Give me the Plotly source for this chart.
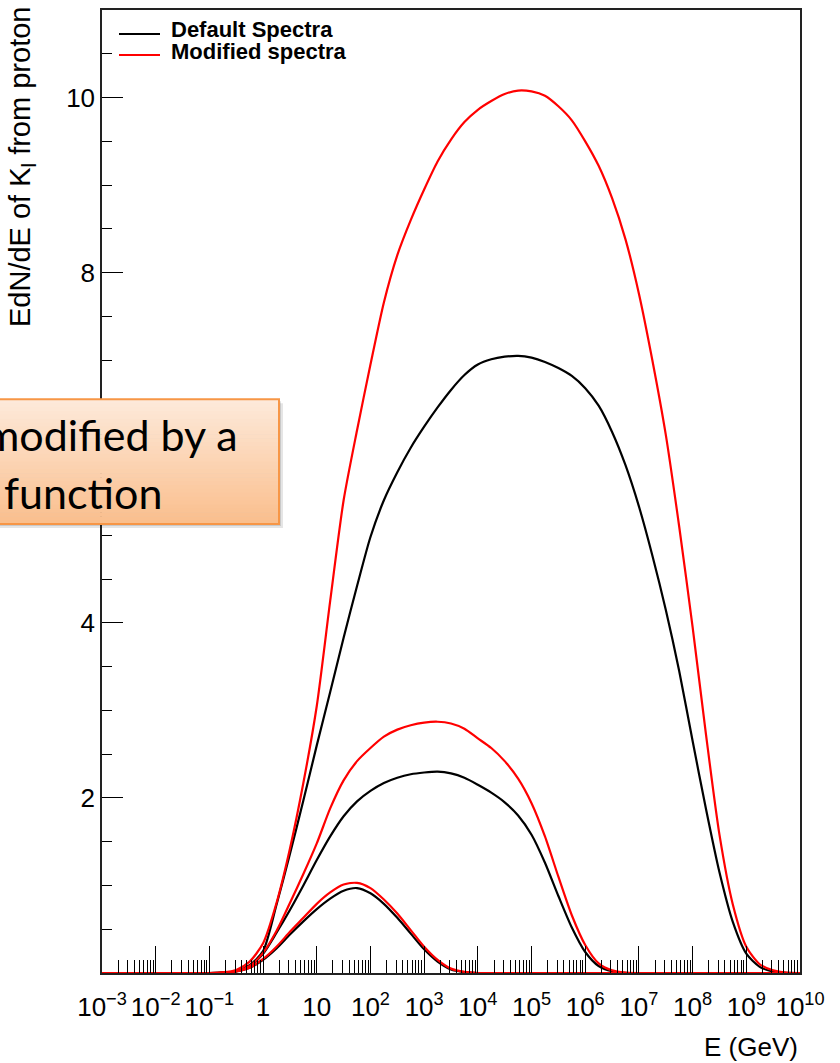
import plotly.graph_objects as go

# ---------------- data ----------------
# log10(E / GeV) sampling grid
log_e = [-3.0, -2.0, -1.0, -0.75, -0.5, -0.25, 0.0, 0.25, 0.5, 0.75,
         1.0, 1.25, 1.5, 1.75, 2.0, 2.25, 2.5, 2.75, 3.0, 3.25,
         3.5, 3.75, 4.0, 4.25, 4.5, 4.75, 5.0, 5.25, 5.5, 5.75,
         6.0, 6.25, 6.5, 6.75, 7.0, 7.25, 7.5, 7.75, 8.0, 8.25,
         8.5, 8.75, 9.0, 9.25, 9.5, 9.75, 10.0]

# large pair
big_default = [0, 0, 0, 0.004, 0.02, 0.09, 0.25, 0.78, 1.36, 1.97,
               2.60, 3.21, 3.83, 4.42, 4.98, 5.40, 5.72, 6.00, 6.24, 6.46,
               6.66, 6.83, 6.95, 7.01, 7.04, 7.05, 7.03, 6.98, 6.91, 6.82,
               6.68, 6.48, 6.18, 5.80, 5.33, 4.77, 4.15, 3.45, 2.65, 1.87,
               1.15, 0.58, 0.22, 0.07, 0.015, 0.002, 0]
big_modified = [0, 0, 0, 0.008, 0.035, 0.13, 0.34, 0.80, 1.42, 2.17,
                3.05, 4.25, 5.40, 6.20, 6.95, 7.66, 8.20, 8.60, 8.95, 9.27,
                9.52, 9.72, 9.86, 9.96, 10.04, 10.08, 10.07, 10.02, 9.90, 9.74,
                9.50, 9.22, 8.85, 8.38, 7.76, 7.00, 6.15, 5.10, 3.95, 2.72,
                1.58, 0.78, 0.30, 0.10, 0.03, 0.005, 0]
# middle pair
mid_default = [0, 0, 0, 0.004, 0.02, 0.08, 0.22, 0.46, 0.72, 1.00,
               1.29, 1.56, 1.79, 1.96, 2.08, 2.17, 2.23, 2.27, 2.29, 2.30,
               2.28, 2.23, 2.15, 2.06, 1.95, 1.80, 1.58, 1.26, 0.88, 0.52,
               0.24, 0.08, 0.02, 0.003, 0, 0, 0, 0, 0, 0,
               0, 0, 0, 0, 0, 0, 0]
mid_modified = [0, 0, 0, 0.004, 0.02, 0.08, 0.23, 0.48, 0.80, 1.13,
                1.48, 1.88, 2.20, 2.42, 2.57, 2.70, 2.78, 2.83, 2.86, 2.87,
                2.85, 2.79, 2.68, 2.57, 2.42, 2.22, 1.94, 1.56, 1.10, 0.66,
                0.32, 0.11, 0.03, 0.005, 0, 0, 0, 0, 0, 0,
                0, 0, 0, 0, 0, 0, 0]
# small pair
small_default = [0, 0, 0, 0.003, 0.018, 0.06, 0.15, 0.28, 0.44, 0.59,
                 0.73, 0.85, 0.94, 0.97, 0.91, 0.79, 0.63, 0.45, 0.27, 0.13,
                 0.04, 0.01, 0, 0, 0, 0, 0, 0, 0, 0,
                 0, 0, 0, 0, 0, 0, 0, 0, 0, 0,
                 0, 0, 0, 0, 0, 0, 0]
small_modified = [0, 0, 0, 0.003, 0.018, 0.06, 0.16, 0.30, 0.47, 0.63,
                  0.79, 0.92, 1.01, 1.03, 0.97, 0.84, 0.68, 0.49, 0.30, 0.15,
                  0.05, 0.012, 0, 0, 0, 0, 0, 0, 0, 0,
                  0, 0, 0, 0, 0, 0, 0, 0, 0, 0,
                  0, 0, 0, 0, 0, 0, 0]

x_exponents = list(range(-3, 11))
x_tick_text = ["10<sup>\u22123</sup>", "10<sup>\u22122</sup>", "10<sup>\u22121</sup>", "1", "10",
               "10<sup>2</sup>", "10<sup>3</sup>", "10<sup>4</sup>", "10<sup>5</sup>",
               "10<sup>6</sup>", "10<sup>7</sup>", "10<sup>8</sup>", "10<sup>9</sup>",
               "10<sup>10</sup>"]
y_tick_vals = [2, 4, 6, 8, 10]
y_tick_text = ["2", "4", "", "8", "10"]   # the "6" is hidden behind the call-out box
legend_labels = ["Default Spectra", "Modified spectra"]
x_title = "E (GeV)"
y_title = "EdN/dE of K<sub>l</sub> from proton"
note_lines = ["modified by a", "function"]

# ---------------- figure ----------------
energy = [10 ** v for v in log_e]
BLACK = "#000000"
RED = "#ff0000"

fig = go.Figure()
series = [
    (big_default, BLACK), (mid_default, BLACK), (small_default, BLACK),
    (big_modified, RED), (mid_modified, RED), (small_modified, RED),
]
for vals, col in series:
    fig.add_trace(go.Scatter(
        x=energy, y=vals, mode="lines", showlegend=False, hoverinfo="skip",
        line=dict(color=col, width=2.2, shape="spline", smoothing=0.7)))

# plot frame in pixels: left 102, right 800, top 8, bottom 973
L, R, T, B = 102, 800, 8, 973


def px(x):
    return (x - L) / (R - L)


def py(y):
    return (B - y) / (B - T)


FONT = "Liberation Sans, Arial, Helvetica, sans-serif"

minor_x = [k * 10 ** n for n in range(-3, 10) for k in range(2, 10)]
minor_y = [v / 2 for v in range(1, 22) if v % 4 != 0]

fig.update_layout(
    width=840, height=1063,
    margin=dict(l=L, r=840 - R, t=T, b=1063 - B),
    paper_bgcolor="white", plot_bgcolor="white",
    font=dict(family=FONT, color="black"),
    showlegend=False,
    xaxis=dict(
        type="log", range=[-3, 10],
        tickmode="array", tickvals=[10 ** e for e in x_exponents], ticktext=x_tick_text,
        ticks="inside", ticklen=27, tickwidth=1, tickcolor="black",
        tickfont=dict(size=26, family=FONT), ticklabelstandoff=10,
        showline=True, linecolor="#222", linewidth=1.5, mirror=True,
        showgrid=False, zeroline=False,
        minor=dict(tickmode="array", tickvals=minor_x, ticks="inside",
                   ticklen=13, tickwidth=1, tickcolor="black", showgrid=False),
    ),
    yaxis=dict(
        range=[0, 11],
        tickmode="array", tickvals=y_tick_vals, ticktext=y_tick_text,
        ticks="inside", ticklen=21, tickwidth=1, tickcolor="black",
        tickfont=dict(size=26, family=FONT),
        showline=True, linecolor="#222", linewidth=1.5, mirror=True,
        showgrid=False, zeroline=False,
        minor=dict(tickmode="array", tickvals=minor_y, ticks="inside",
                   ticklen=10, tickwidth=1, tickcolor="black", showgrid=False),
    ),
)

shapes = []
annotations = []

# legend (drawn by hand, ROOT TLegend style)
for i, (lab, col) in enumerate(zip(legend_labels, [BLACK, RED])):
    yl = 32 + 21 * i
    shapes.append(dict(type="line", xref="paper", yref="paper",
                       x0=px(119), x1=px(160), y0=py(yl), y1=py(yl),
                       line=dict(color=col, width=2)))
    annotations.append(dict(xref="paper", yref="paper", x=px(169), y=py(28 + 21.5 * i),
                            xanchor="left", yanchor="middle", showarrow=False,
                            text="<b>" + lab + "</b>",
                            font=dict(size=22, family=FONT, color="black")))

# orange call-out box (partially outside the left edge)
bx0, bx1, by0, by1 = -10, 279, 398, 523
shapes.append(dict(type="rect", xref="paper", yref="paper", layer="above",
                   x0=px(bx0 + 4), x1=px(bx1 + 4), y0=py(by1 + 4), y1=py(by0 + 4),
                   fillcolor="rgba(0,0,0,0.10)", line=dict(width=0)))
shapes.append(dict(type="rect", xref="paper", yref="paper", layer="above",
                   x0=px(bx0 + 2), x1=px(bx1 + 2), y0=py(by1 + 2), y1=py(by0 + 2),
                   fillcolor="rgba(0,0,0,0.12)", line=dict(width=0)))
top_c = (253, 234, 219)
bot_c = (250, 190, 140)
n = 32
for i in range(n):
    t = (i + 0.5) / n
    c = tuple(round(top_c[k] + (bot_c[k] - top_c[k]) * t) for k in range(3))
    ya = by0 + (by1 - by0) * i / n
    yb = by0 + (by1 - by0) * (i + 1) / n + 0.6
    shapes.append(dict(type="rect", xref="paper", yref="paper", layer="above",
                       x0=px(bx0), x1=px(bx1), y0=py(yb), y1=py(ya),
                       fillcolor="rgb(%d,%d,%d)" % c, line=dict(width=0)))
shapes.append(dict(type="rect", xref="paper", yref="paper", layer="above",
                   x0=px(bx0), x1=px(bx1), y0=py(by1), y1=py(by0),
                   fillcolor="rgba(0,0,0,0)", line=dict(color="#f79646", width=2)))

NOTE_FONT = "Lato, Open Sans, sans-serif"
annotations.append(dict(xref="paper", yref="paper", x=px(240), y=py(433),
                        xanchor="right", yanchor="middle", showarrow=False,
                        text=note_lines[0], font=dict(size=43, family=NOTE_FONT, color="black")))
annotations.append(dict(xref="paper", yref="paper", x=px(2), y=py(492),
                        xanchor="left", yanchor="middle", showarrow=False,
                        text=note_lines[1], font=dict(size=43, family=NOTE_FONT, color="black")))

# axis titles (ROOT style: aligned to the axis ends)
annotations.append(dict(xref="paper", yref="paper", x=px(22), y=py(3),
                        xanchor="center", yanchor="top", showarrow=False, textangle=-90,
                        text=y_title, font=dict(size=29, family=FONT, color="black")))
annotations.append(dict(xref="paper", yref="paper", x=1.0, y=py(1047),
                        xanchor="right", yanchor="middle", showarrow=False,
                        text=x_title, font=dict(size=26, family=FONT, color="black")))

fig.update_layout(shapes=shapes, annotations=annotations)
fig.write_html("out.html")
